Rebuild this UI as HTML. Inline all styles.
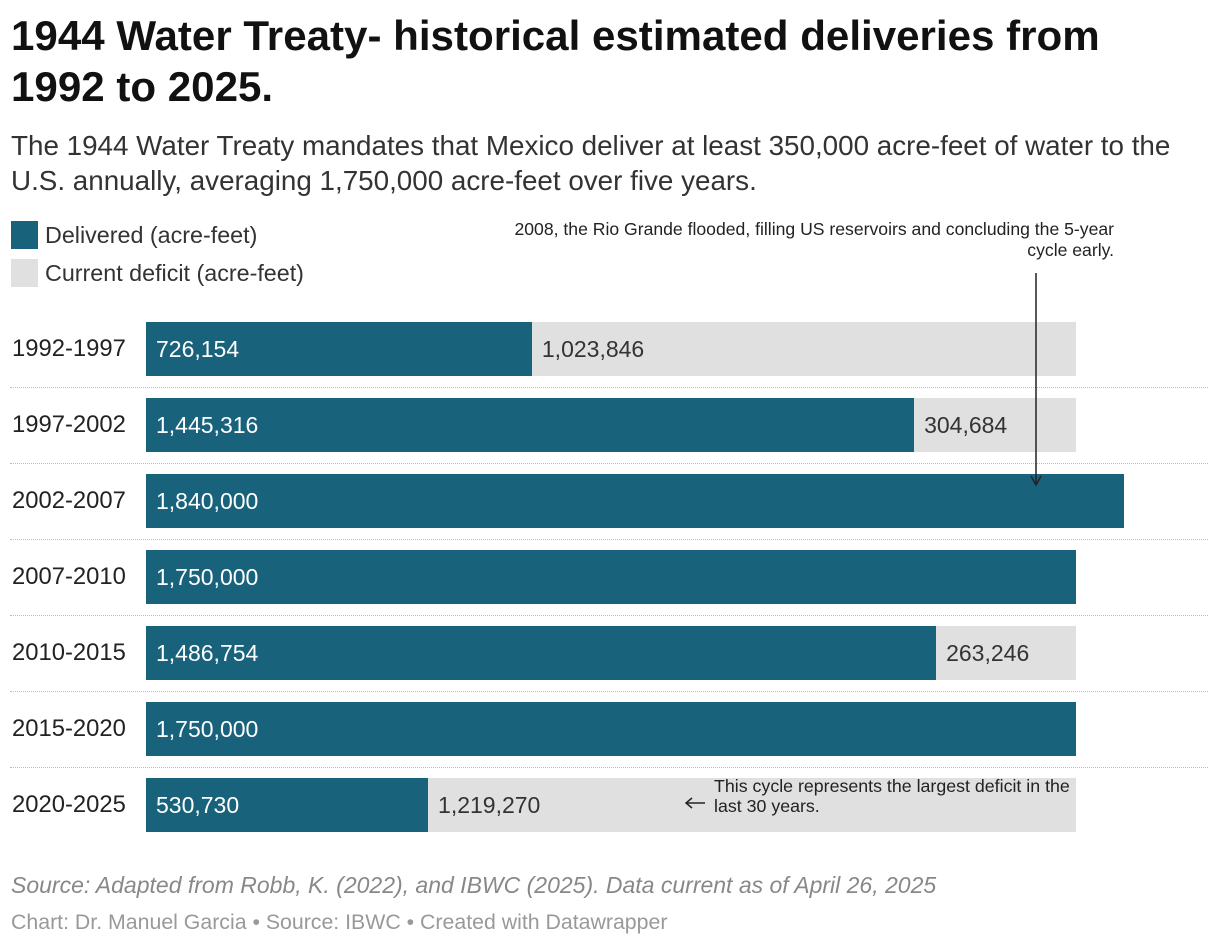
<!DOCTYPE html>
<html><head><meta charset="utf-8">
<style>
body{margin:0;width:1220px;height:946px;background:#fff;font-family:"Liberation Sans",Roboto,sans-serif;color:#222;position:relative;overflow:hidden}
.abs{position:absolute}
h1{position:absolute;left:11px;top:10px;margin:0;font-size:42.1px;line-height:51px;font-weight:bold;color:#111;width:1210px;white-space:nowrap}
.sub{left:11px;top:128px;font-size:27.8px;line-height:35px;color:#333;width:1210px;white-space:nowrap}
.leg{left:11px;font-size:23.3px;color:#333;display:flex;align-items:center}
.leg span.sw{width:27px;height:28px;display:inline-block;margin-right:7px}
.foot1{left:11px;top:872px;font-size:23px;font-style:italic;color:#888;white-space:nowrap}
.foot2{left:11px;top:910px;font-size:21.3px;color:#999;white-space:nowrap}
.ann{color:#222;white-space:nowrap}
</style></head><body>
<h1>1944 Water Treaty- historical estimated deliveries from<br>1992 to 2025.</h1>
<div class="abs sub">The 1944 Water Treaty mandates that Mexico deliver at least 350,000 acre-feet of water to the<br>U.S. annually, averaging 1,750,000 acre-feet over five years.</div>
<div class="abs leg" style="top:221px"><span class="sw" style="background:#18627b"></span>Delivered (acre-feet)</div>
<div class="abs leg" style="top:259px"><span class="sw" style="background:#e0e0e0"></span>Current deficit (acre-feet)</div>
<div id="chart"></div>
<div class="abs ann" style="right:106px;top:219px;text-align:right;font-size:17.6px;line-height:21px">2008, the Rio Grande flooded, filling US reservoirs and concluding the 5-year<br>cycle early.</div>
<svg class="abs" style="left:0;top:0" width="1220" height="946">
<line x1="1036" y1="273" x2="1036" y2="484" stroke="#222" stroke-width="1.5"/>
<path d="M1031 476 L1036 485 L1041 476" fill="none" stroke="#222" stroke-width="1.5"/>
<line x1="686" y1="803" x2="705" y2="803" stroke="#222" stroke-width="1.5"/>
<path d="M692 798 L686 803 L692 808" fill="none" stroke="#222" stroke-width="1.5"/>
</svg>
<div class="abs ann" style="left:714px;top:776px;font-size:17.8px;line-height:20px">This cycle represents the largest deficit in the<br>last 30 years.</div>
<div class="abs foot1">Source: Adapted from Robb, K. (2022), and IBWC (2025). Data current as of April 26, 2025</div>
<div class="abs foot2">Chart: Dr. Manuel Garcia • Source: IBWC • Created with Datawrapper</div>
<script>
const categories=["1992-1997","1997-2002","2002-2007","2007-2010","2010-2015","2015-2020","2020-2025"];
const delivered=[726154,1445316,1840000,1750000,1486754,1750000,530730];
const deficit=[1023846,304684,0,0,263246,0,1219270];
const x0=146, pxPerUnit=930/1750000, top0=322, step=76, bh=54;
const xs=v=>v*pxPerUnit;
const fmt=v=>v.toLocaleString('en-US');
const c=document.getElementById('chart');
categories.forEach((cat,i)=>{
  const y=top0+i*step;
  const lab=document.createElement('div');
  lab.className='abs';
  lab.style.cssText=`left:12px;top:${y}px;height:${bh}px;line-height:${bh}px;font-size:23.8px;color:#222`;
  lab.textContent=cat;
  
  
  c.appendChild(lab);
  const w1=xs(delivered[i]);
  const b=document.createElement('div');
  b.className='abs';
  b.style.cssText=`left:${x0}px;top:${y}px;width:${w1}px;height:${bh}px;background:#18627b;color:#fff;font-size:23px;line-height:${bh}px;padding-left:10px;box-sizing:border-box;white-space:nowrap`;
  b.textContent=fmt(delivered[i]);
  
  
  c.appendChild(b);
  if(deficit[i]>0){
    const d=document.createElement('div');
    d.className='abs';
    d.style.cssText=`left:${x0+w1}px;top:${y}px;width:${xs(deficit[i])}px;height:${bh}px;background:#e0e0e0;color:#333;font-size:23px;line-height:${bh}px;padding-left:10px;box-sizing:border-box;white-space:nowrap`;
    d.textContent=fmt(deficit[i]);
    
    
    c.appendChild(d);
  }
  if(i<categories.length-1){
    const s=document.createElement('div');
    s.className='abs';
    s.style.cssText=`left:10px;top:${y+bh+11}px;width:1198px;border-top:1px dotted #bbb`;
    
    
    c.appendChild(s);
  }
});
</script>
</body></html>
